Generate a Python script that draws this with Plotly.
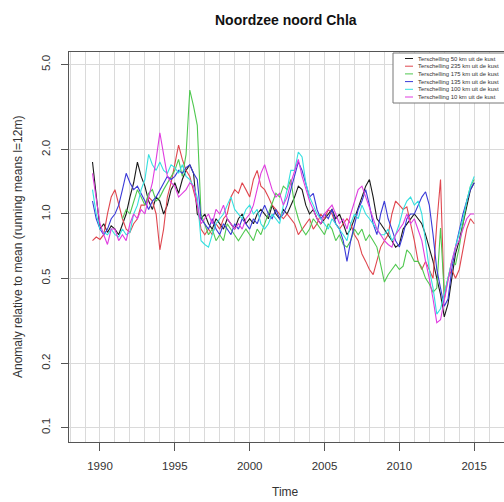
import numpy as np
import plotly.graph_objects as go

# quarterly time stamps, 1989.50 ... 2015.00
start_year = 1989.5
n_points = 103
times = [start_year + 0.25 * i for i in range(n_points)]

series_names = [
    "Terschelling 50 km uit de kust",
    "Terschelling 235 km uit de kust",
    "Terschelling 175 km uit de kust",
    "Terschelling 135 km uit de kust",
    "Terschelling 100 km uit de kust",
    "Terschelling 10 km uit de kust",
]
series_colors = ["#1a1a1a", "#e0474f", "#4fc84f", "#3a3ad8", "#35e0e0", "#e03ce0"]

t50 = [1.75, 1.2,
       0.85, 0.9, 0.82, 0.88,
       0.85, 0.8, 0.9, 1.0,
       1.2, 1.4, 1.75, 1.5,
       1.35, 1.15, 1.05, 1.2,
       1.15, 1.0, 1.1, 1.3,
       1.4, 1.25, 1.45, 1.6,
       1.7, 1.55, 1.0, 0.95,
       1.0, 0.9, 0.85, 0.95,
       0.9, 0.85, 0.95, 0.9,
       0.85, 0.95, 1.0, 0.9,
       0.95, 0.9, 1.0, 1.05,
       1.0, 0.95, 1.1, 1.0,
       0.95, 1.05, 1.0, 1.1,
       1.2, 1.35, 1.3, 1.1,
       1.0, 1.05, 0.95, 0.9,
       0.95, 1.0, 1.05, 0.95,
       1.0, 0.9, 0.8, 0.85,
       0.95, 1.05, 1.2, 1.35,
       1.45, 1.2, 0.95, 0.9,
       0.85, 0.8, 0.75, 0.7,
       0.72, 0.85, 0.9, 0.95,
       1.0, 0.95, 0.9, 0.8,
       0.7, 0.6, 0.5, 0.42,
       0.33, 0.38, 0.5, 0.65,
       0.75, 0.9, 1.1, 1.3,
       1.4]

t235 = [0.75, 0.78,
        0.76, 0.8, 1.0, 1.2,
        1.3, 1.1, 0.95, 0.85,
        0.82, 0.9, 0.95, 1.1,
        1.1, 1.2, 1.15, 1.0,
        0.68, 0.85, 1.2, 1.4,
        1.7, 2.1, 1.8, 1.6,
        1.5, 1.3, 1.1, 0.85,
        0.8, 0.85, 0.8, 0.9,
        0.85, 0.95, 1.0, 1.2,
        1.3, 1.25, 1.4, 1.3,
        1.2, 1.45, 1.6, 1.35,
        1.3, 1.2, 1.1, 1.05,
        1.0, 0.95, 1.0, 0.95,
        0.9, 0.8, 0.85, 0.9,
        0.95, 0.85, 0.9, 1.0,
        0.95, 1.05, 1.0, 0.9,
        0.85, 0.9, 0.95, 0.9,
        0.8, 0.75, 0.65, 0.6,
        0.55, 0.52, 0.6, 0.7,
        0.75, 0.8, 1.0, 1.15,
        1.1, 1.05, 1.08, 0.9,
        0.75, 0.6, 0.55, 0.6,
        0.55, 0.5, 0.9, 1.45,
        0.4, 0.5, 0.55, 0.5,
        0.55, 0.7, 0.85, 0.95,
        0.9]

t175 = [None, None,
        None, None, None, None,
        None, None, 0.95, 1.05,
        1.0, 1.15, 1.3, 1.2,
        1.1, 1.25, 1.3, 1.15,
        1.2, 1.3, 1.4, 1.5,
        1.6, 1.8, 1.5, 1.9,
        3.8, 3.2, 2.6, 1.0,
        0.9, 0.8, 0.85, 0.75,
        0.8, 0.75, 0.9, 0.85,
        0.8, 0.75, 0.8, 0.85,
        0.8, 0.75, 0.85, 0.8,
        0.9, 1.0, 1.1, 1.25,
        1.2, 1.35, 1.3, 1.45,
        1.1, 0.95, 0.85, 0.8,
        0.85, 0.95, 0.9, 0.85,
        0.8, 0.9, 0.85, 0.75,
        0.8, 0.72, 0.7, 0.75,
        0.85, 0.8, 0.85, 0.75,
        0.8, 0.75, 0.7, 0.58,
        0.48, 0.52, 0.55, 0.58,
        0.55, 0.57, 0.68, 0.65,
        0.6, 0.6, 0.56, 0.5,
        0.47, 0.43, 0.45, 0.86,
        0.42, 0.5, 0.6, 0.58,
        0.7, 0.9, 1.15, 1.35,
        1.45]

t135 = [1.15, 0.95,
        0.85, 0.8, 0.85, 0.95,
        1.0, 1.1, 1.3, 1.55,
        1.4, 1.3, 1.35, 1.25,
        1.15, 1.05, 1.15, 1.2,
        1.3, 1.4, 1.5, 1.45,
        1.5, 1.6, 1.55, 1.65,
        1.7, 1.55, 1.45, 0.95,
        0.9, 0.85, 0.95, 0.85,
        0.8, 0.9, 0.85, 0.8,
        0.9, 0.85, 0.95, 0.9,
        0.85, 0.95, 0.9, 1.0,
        1.1, 1.0, 0.95, 1.05,
        0.95, 1.0, 1.1, 1.3,
        1.5, 1.75, 1.6, 1.4,
        1.2, 1.25, 1.05, 0.95,
        1.0, 0.95, 1.05, 0.9,
        0.85, 0.75, 0.6, 0.75,
        0.9, 1.05, 1.15, 1.3,
        1.1, 0.9, 0.8, 1.0,
        1.15, 0.95, 0.85, 0.75,
        0.7, 0.8, 0.95, 1.0,
        1.0, 1.1, 1.2, 1.27,
        1.1, 0.8, 0.55, 0.45,
        0.37, 0.4, 0.55, 0.7,
        0.85, 1.0, 1.15, 1.3,
        1.4]

t100 = [1.3, 1.0,
        0.85, 0.82, 0.8, 0.85,
        0.8, 0.78, 0.85, 0.8,
        0.82, 1.0, 1.1, 1.3,
        1.45, 1.9, 1.7, 1.6,
        1.75, 1.6, 1.55, 1.7,
        1.65, 1.55, 1.7, 1.5,
        1.45, 1.35, 1.2, 0.75,
        0.72, 0.7, 0.8, 0.9,
        0.95, 1.0, 1.1, 1.2,
        1.05, 1.0, 0.95, 1.05,
        1.1, 1.0, 1.05, 0.9,
        0.85, 0.9, 1.0, 0.95,
        0.9, 1.1, 1.3, 1.6,
        1.6, 1.95, 1.85, 1.4,
        1.2, 1.1, 1.0, 0.95,
        0.9, 0.85, 0.95, 0.9,
        0.85, 0.8, 0.75, 0.9,
        1.0, 0.95, 1.1, 1.0,
        0.95, 0.9, 0.85, 0.8,
        0.8, 0.85, 0.75, 0.8,
        0.9, 1.05, 1.15, 1.2,
        1.1, 1.15, 1.0, 0.75,
        0.55, 0.45, 0.34, 0.36,
        0.42, 0.5, 0.6, 0.7,
        0.8, 0.95, 1.15, 1.35,
        1.5]

t10 = [1.55, 1.2,
       0.9, 0.8, 0.72, 0.85,
       0.85, 0.75, 0.8, 0.75,
       0.9, 1.0, 0.95, 1.05,
       1.0, 1.2, 1.4, 1.8,
       2.4, 1.9, 1.5, 1.4,
       1.35, 1.2, 1.25, 1.3,
       1.4, 1.35, 1.1, 0.9,
       0.95, 1.0, 0.9, 1.05,
       1.0, 1.1, 0.95, 0.9,
       0.85, 0.9, 0.85, 0.95,
       1.0, 1.1, 1.3, 1.55,
       1.7, 1.5, 1.3, 1.2,
       1.25, 1.1, 1.2, 1.4,
       1.6, 1.8, 1.5, 1.3,
       1.15, 1.05, 0.95, 0.9,
       1.0, 1.05, 1.1, 1.0,
       0.9, 0.95, 0.85, 1.0,
       1.15, 1.3, 1.35, 1.2,
       1.05, 0.95, 0.85, 0.8,
       0.75, 0.72, 0.7, 0.8,
       0.85, 0.9, 1.0, 0.9,
       0.95, 0.85, 0.75, 0.6,
       0.5, 0.4, 0.31, 0.32,
       0.4, 0.5, 0.6, 0.7,
       0.75, 0.85, 0.95, 1.0,
       1.0]

series_values = [t50, t235, t175, t135, t100, t10]

x_ticks = [1990, 1995, 2000, 2005, 2010, 2015]
y_ticks = [0.1, 0.2, 0.5, 1.0, 2.0, 5.0]
y_tick_labels = ["0.1", "0.2", "0.5", "1.0", "2.0", "5.0"]

title_text = "Noordzee noord Chla"
x_title = "Time"
y_title = "Anomaly relative to mean (running means l=12m)"

FONT = "Liberation Sans, Arial, sans-serif"
W, H = 504, 502
ML, MR, MT, MB = 69, 0, 52, 60
PW, PH = W - ML - MR, H - MT - MB


def px_x(p):
    return (p - ML) / PW


def px_y(p):
    return (H - MB - p) / PH


fig = go.Figure()
for name, vals, col in zip(series_names, series_values, series_colors):
    assert len(vals) == n_points, (name, len(vals))
    fig.add_trace(go.Scatter(x=times, y=vals, mode="lines", name=name,
                             line=dict(color=col, width=1.1), showlegend=False,
                             connectgaps=False))

grid_col = "#dadada"
axis_col = "#555555"
fig.update_layout(
    width=W, height=H,
    margin=dict(l=ML, r=MR, t=MT, b=MB, pad=0),
    paper_bgcolor="white", plot_bgcolor="white",
    font=dict(family=FONT, color="#333333", size=12),
    xaxis=dict(range=[1987.93, 2016.99], tickvals=x_ticks, ticks="outside",
               ticklen=8, tickcolor=axis_col, showline=True, linecolor=axis_col,
               linewidth=1, mirror=True, showgrid=True, gridcolor=grid_col,
               gridwidth=1, zeroline=False, tickfont=dict(size=11.5),
               ticklabelstandoff=5,
               minor=dict(dtick=1, tick0=1990, showgrid=True, gridcolor=grid_col,
                          ticks="")),
    yaxis=dict(type="log", range=[-1.067, 0.758], tickvals=y_ticks,
               ticktext=y_tick_labels, tickangle=-90, ticks="outside", ticklen=7,
               tickcolor=axis_col, showline=True, linecolor=axis_col, linewidth=1,
               showgrid=True, gridcolor=grid_col, gridwidth=1, zeroline=False,
               tickfont=dict(size=11.5), ticklabelstandoff=6),
)

annotations = [
    dict(text="<b>" + title_text + "</b>", x=px_x(286), y=px_y(20), xref="paper",
         yref="paper", showarrow=False, font=dict(size=14, color="#111111"),
         xanchor="center", yanchor="middle"),
    dict(text=x_title, x=px_x(285), y=px_y(492), xref="paper", yref="paper",
         showarrow=False, font=dict(size=12), xanchor="center", yanchor="middle"),
    dict(text=y_title, x=px_x(18), y=px_y(247), xref="paper", yref="paper",
         showarrow=False, font=dict(size=12), textangle=-90, xanchor="center",
         yanchor="middle"),
]

# legend (drawn compactly like the original)
shapes = [dict(type="rect", xref="paper", yref="paper", x0=px_x(393), x1=px_x(520),
               y0=px_y(103), y1=px_y(53), line=dict(color="#777777", width=1),
               fillcolor="white", layer="above")]
for i, (name, col) in enumerate(zip(series_names, series_colors)):
    yy = 58.5 + i * 7.7
    shapes.append(dict(type="line", xref="paper", yref="paper", x0=px_x(405),
                       x1=px_x(413), y0=px_y(yy), y1=px_y(yy),
                       line=dict(color=col, width=1), layer="above"))
    annotations.append(dict(text=name, x=px_x(417), y=px_y(yy), xref="paper",
                            yref="paper", showarrow=False, xanchor="left",
                            yanchor="middle", borderpad=0,
                            font=dict(size=5.9, color="#333333")))

fig.update_layout(annotations=annotations, shapes=shapes)
fig.write_html("out.html",
               config={"displayModeBar": False},
               post_script="document.body.style.margin='0';"
                           "document.body.style.overflow='hidden';")
